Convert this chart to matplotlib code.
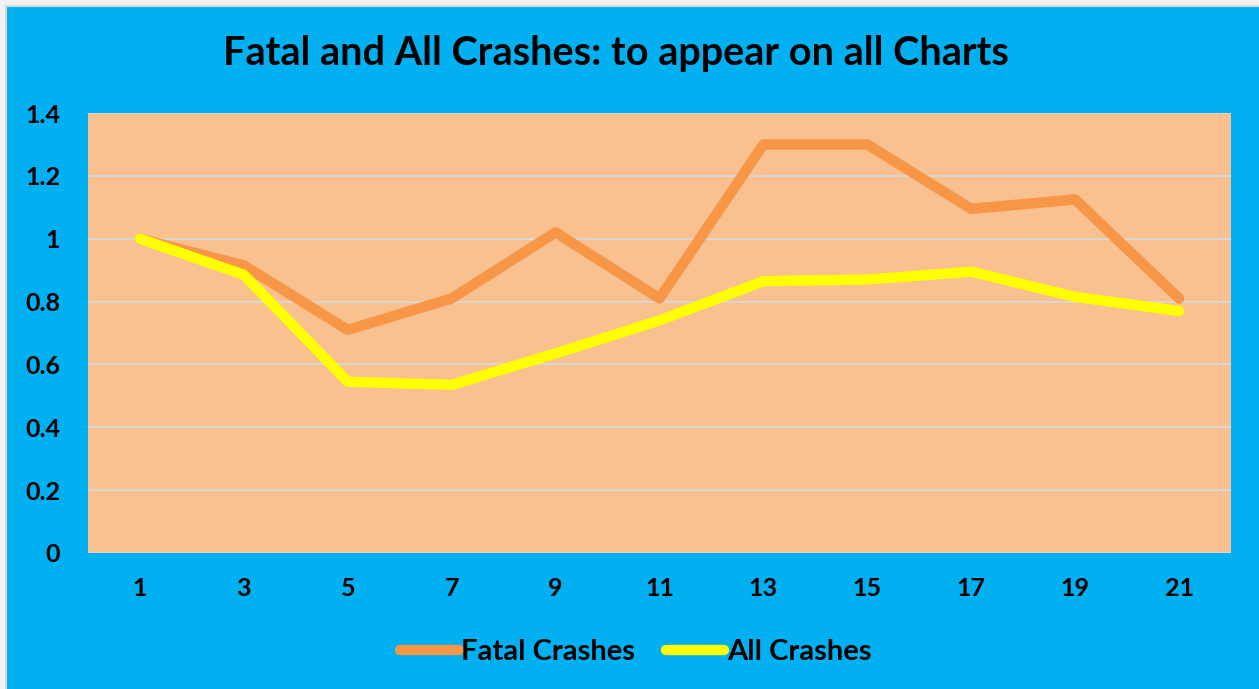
import matplotlib
matplotlib.use("Agg")
import matplotlib.pyplot as plt
from matplotlib.patches import Rectangle

categories = ["1", "3", "5", "7", "9", "11", "13", "15", "17", "19", "21"]
fatal_crashes = [1.00, 0.915, 0.71, 0.81, 1.02, 0.81, 1.30, 1.30, 1.095, 1.125, 0.81]
all_crashes = [1.00, 0.885, 0.545, 0.535, 0.635, 0.74, 0.865, 0.87, 0.895, 0.815, 0.77]
y_ticks = [0, 0.2, 0.4, 0.6, 0.8, 1, 1.2, 1.4]
y_labels = ["0", "0.2", "0.4", "0.6", "0.8", "1", "1.2", "1.4"]

plt.rcParams['font.family'] = ['Lato', 'DejaVu Sans']

W, H = 1259, 689
fig = plt.figure(figsize=(W/100, H/100), dpi=100)
fig.patch.set_facecolor("#F2F2F2")
fig.patches.append(Rectangle((6/W, -0.01), 1.02, 1 - 6/H + 0.01, transform=fig.transFigure,
                             facecolor="#00B0F0", edgecolor="#D9D9D9", lw=1.5, zorder=-10))

ax = fig.add_axes([88/W, 1-553/H, (1231-88)/W, (553-113)/H])
ax.set_zorder(1)
ax.set_facecolor("#F9C090")

x = list(range(len(categories)))
ax.plot(x, fatal_crashes, color="#F79646", lw=7.5, solid_capstyle="round",
        solid_joinstyle="round", label="Fatal Crashes", zorder=3)
ax.plot(x, all_crashes, color="#FFFF00", lw=7.5, solid_capstyle="round",
        solid_joinstyle="round", label="All Crashes", zorder=4)

ax.set_xlim(-0.5, len(categories) - 0.5)
ax.set_ylim(0, 1.4)
ax.set_yticks(y_ticks)
ax.set_yticklabels(y_labels)
ax.set_xticks(x)
ax.set_xticklabels(categories)
ax.grid(axis="y", color="#D9D9D9", lw=1.3)
ax.set_axisbelow(True)
for s in ax.spines.values():
    s.set_visible(False)
ax.tick_params(axis="both", length=0, labelsize=18)
ax.tick_params(axis="y", pad=20)
ax.tick_params(axis="x", pad=17)
for lab in ax.get_xticklabels() + ax.get_yticklabels():
    lab.set_fontweight("bold")

fig.text(616/W, 1-53/H, "Fatal and All Crashes: to appear on all Charts",
         ha="center", va="center", fontsize=28.5, fontweight="bold", zorder=5)

leg = fig.legend(loc="center", bbox_to_anchor=(636/W, 1-652/H), ncol=2,
                 frameon=False, handlelength=2.0, handletextpad=0.1,
                 columnspacing=1.05, prop={"weight": "bold", "size": 21})
leg.set_zorder(5)

fig.savefig("out.png", dpi=100, facecolor=fig.get_facecolor())
